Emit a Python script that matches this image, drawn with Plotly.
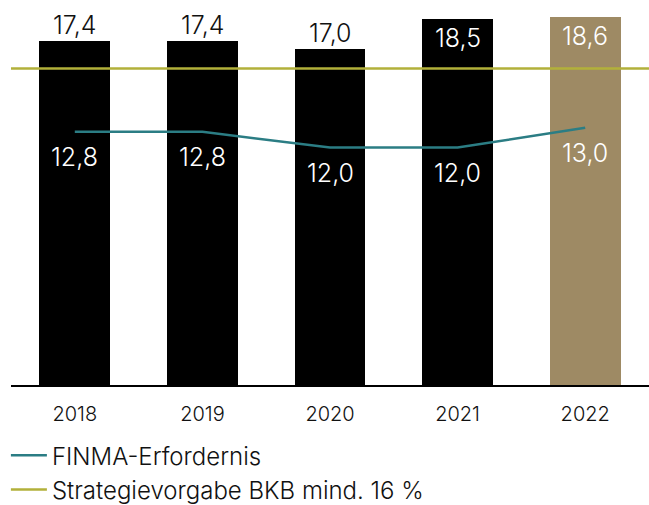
import plotly.graph_objects as go

years = ["2018", "2019", "2020", "2021", "2022"]
capital_ratio = [17.4, 17.4, 17.0, 18.5, 18.6]
finma_requirement = [12.8, 12.8, 12.0, 12.0, 13.0]
strategy_target = 16.0
bar_colors = ["#000000", "#000000", "#000000", "#000000", "#9e8a64"]
# where the bar label is placed: above (outside) or inside the bar top
label_inside = [False, False, False, True, True]

series_finma = "FINMA-Erfordernis"
series_target = "Strategievorgabe BKB mind. 16 %"

FONT = "Inter"
TEAL = "#2b7d84"
OLIVE = "#b2b03a"


def fmt(v):
    return f"{v:.1f}".replace(".", ",")


fig = go.Figure()

fig.add_trace(go.Bar(
    x=years, y=capital_ratio,
    marker=dict(color=bar_colors, line=dict(width=0)),
    width=0.556,
    showlegend=False,
    hoverinfo="skip",
))

fig.add_trace(go.Scatter(
    x=years, y=finma_requirement,
    mode="lines",
    line=dict(color=TEAL, width=2.5),
    name=series_finma,
    legendrank=1,
    hoverinfo="skip",
))

fig.add_shape(
    type="line", xref="paper", x0=0, x1=1, yref="y", y0=strategy_target, y1=strategy_target,
    line=dict(color=OLIVE, width=2.5), layer="above",
    showlegend=True, name=series_target, legendrank=2,
)

annotations = []
for i, (v, inside) in enumerate(zip(capital_ratio, label_inside)):
    annotations.append(dict(
        x=i, y=v, xref="x", yref="y", text=fmt(v), showarrow=False,
        yanchor="middle", yshift=-19 if inside else 16,
        font=dict(family=FONT, size=25, color="#ffffff" if inside else "#111111", weight=300),
    ))
for i, v in enumerate(finma_requirement):
    annotations.append(dict(
        x=i, y=v, xref="x", yref="y", text=fmt(v), showarrow=False,
        yanchor="middle", yshift=-25,
        font=dict(family=FONT, size=25, color="#ffffff", weight=300),
    ))

fig.update_layout(
    width=649, height=505,
    margin=dict(l=11, r=0, t=0, b=120, autoexpand=False),
    paper_bgcolor="white", plot_bgcolor="white",
    font=dict(family=FONT, color="#111111", weight=300),
    annotations=annotations,
    bargap=0,
    xaxis=dict(
        type="category", range=[-0.5, 4.5],
        showline=True, linecolor="#000000", linewidth=2,
        showgrid=False, zeroline=False, ticks="",
        tickfont=dict(family=FONT, size=20, color="#111111", weight=300),
        ticklabelstandoff=10,
        fixedrange=True,
    ),
    yaxis=dict(
        range=[0, 19.46], visible=False, showgrid=False, zeroline=False,
        fixedrange=True,
    ),
    legend=dict(
        orientation="v", x=-0.008, xanchor="left", y=-0.125, yanchor="top",
        font=dict(family=FONT, size=24, color="#111111", weight=300),
        bgcolor="rgba(0,0,0,0)", itemwidth=36,
    ),
)

fig.write_html(
    "out.html",
    config={"displayModeBar": False},
    post_script="document.body.style.margin='0';document.body.style.overflow='hidden';",
)
